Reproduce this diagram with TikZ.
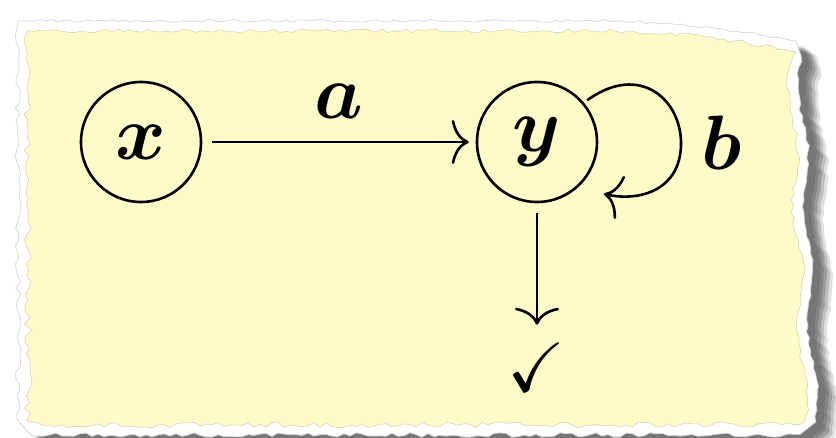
\documentclass[tikz,border=0pt]{standalone}
\usepackage{amssymb}
\usepackage{graphicx}
\usetikzlibrary{arrows.meta}
\definecolor{paperyellow}{RGB}{255,251,200}
\newcommand\tornpath[2]{%
 (28-#1,31-#1)
 \foreach \x in {34,40,...,796}{ -- (\x,{31-#1+20*(max(0,\x-600)/190)^2+#2*rand}) }
 \foreach \y in {56,62,...,422}{ -- ({790+#1+15*(\y-50)/370+#2*rand+4*sin(\y*3)},\y) }
 \foreach \x in {800,794,...,28}{ -- (\x,{425+#1+#2*1.5*rand}) }
 \foreach \y in {420,414,...,36}{ -- ({28-#1+#2*2*rand},\y) }
 -- cycle}
\newcommand\hugemath[1]{\scalebox{3.1}{\Huge\boldmath$#1$}}
\begin{document}
\begin{tikzpicture}[x=1pt,y=-1pt,
  state/.style={circle,draw,line width=2.6pt,minimum size=120pt,inner sep=0pt},
  lbl/.style={inner sep=0pt},
  arr/.style={line width=2.6pt,-{Computer Modern Rightarrow[length=17pt,width=44pt]}}]
\useasboundingbox (0,0) rectangle (836,438);
\clip (0,0) rectangle (836,438);
\foreach \s/\o in {8/0.12,11/0.15,14/0.18,17/0.15,20/0.12}{
  \pgfmathsetseed{5}
  \fill[black,opacity=\o,shift={(\s,0.7*\s)}] \tornpath{10}{1.5};
}
\pgfmathsetseed{5}
\filldraw[fill=white,draw=black!15,line width=0.8pt] \tornpath{10}{1.5};
\pgfmathsetseed{11}
\filldraw[fill=paperyellow,draw=paperyellow!60!black,draw opacity=0.4,line width=0.6pt] \tornpath{0}{2};

\node[state] (x) at (141,142) {\hugemath{x}};
\node[state] (y) at (537,142) {\hugemath{y}};
\node[lbl,anchor=base] (a) at (339,119) {\hugemath{a}};
\node[lbl,anchor=base] (b) at (722,170) {\hugemath{b}};
\node[inner sep=0pt] (ok) at (537,367) {\scalebox{2.8}{\Huge$\checkmark$}};
\coordinate (lt) at (604,194);

\draw[arr,shorten <=10pt,shorten >=7pt] (x) -- (y);
\draw[arr,shorten <=10pt,shorten >=18pt] (y) -- (ok);
\draw[arr,shorten <=4pt] (y.40) .. controls (640,62) and (682,100) .. (681,145)
  .. controls (680,190) and (640,202) .. (lt);
\end{tikzpicture}
\end{document}
